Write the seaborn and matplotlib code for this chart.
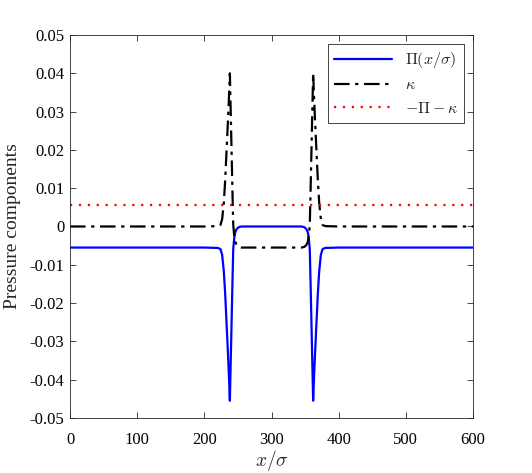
import matplotlib
matplotlib.use("Agg")
import matplotlib.pyplot as plt
import pandas as pd
import seaborn as sns
from matplotlib.ticker import FuncFormatter

# values
x_pos = [0, 200, 220, 224, 226.5, 229, 231, 233, 235, 236.5, 238, 239.5, 241, 242, 243,
         244.5, 246, 248, 251, 255, 300, 345, 349, 352, 354, 355.5, 357, 358, 359,
         360.5, 362, 363.5, 365, 367, 369, 371, 373.5, 376, 380, 400, 600]
pi_vals = [-0.0055, -0.0055, -0.0056, -0.0059, -0.0074, -0.0117, -0.0175, -0.0250, -0.0325,
           -0.0385, -0.0455, -0.0335, -0.0215, -0.0135, -0.0060, -0.0030, -0.0015, -0.0007,
           -0.0002, 0.0, 0.0, 0.0, -0.0002, -0.0007, -0.0015, -0.0030, -0.0060, -0.0135,
           -0.0215, -0.0335, -0.0455, -0.0385, -0.0325, -0.0250, -0.0175, -0.0117, -0.0074,
           -0.0059, -0.0056, -0.0055, -0.0055]
kappa_vals = [0.0, 0.0, 0.0001, 0.0004, 0.0019, 0.0062, 0.0120, 0.0195, 0.0270, 0.0330,
              0.0400, 0.0280, 0.0160, 0.0080, 0.0005, -0.0025, -0.0040, -0.0048, -0.0053,
              -0.0055, -0.0055, -0.0055, -0.0053, -0.0048, -0.0040, -0.0025, 0.0005, 0.0080,
              0.0160, 0.0280, 0.0400, 0.0330, 0.0270, 0.0195, 0.0120, 0.0062, 0.0019, 0.0004,
              0.0001, 0.0, 0.0]
rest_x = [0, 600]
rest_vals = [0.0055, 0.0055]

df = pd.DataFrame({'x': x_pos, 'Pi': pi_vals, 'kappa': kappa_vals})
rest = pd.DataFrame({'x': rest_x, 'r': rest_vals})

sns.set_style('ticks')
plt.rcParams['font.family'] = ['Liberation Serif', 'DejaVu Serif']
plt.rcParams['mathtext.fontset'] = 'cm'

fig = plt.figure(figsize=(5.32, 4.73), dpi=100)
ax = fig.add_axes([0.1316, 0.1163, 0.7575, 0.8097])

sns.lineplot(data=df, x='x', y='Pi', ax=ax, color='#0000ff', lw=1.6, sort=False,
             label=r'$\Pi(x/\sigma)$')
sns.lineplot(data=df, x='x', y='kappa', ax=ax, color='black', lw=1.6, sort=False,
             linestyle=(0, (7, 2.5, 1.5, 2.5)), label=r'$\kappa$')
sns.lineplot(data=rest, x='x', y='r', ax=ax, color='#ff0000', lw=1.6,
             linestyle=(0, (1, 3)), label=r'$-\Pi-\kappa$')

ax.set_xlim(0, 600)
ax.set_ylim(-0.05, 0.05)
ax.set_xticks(range(0, 601, 100))
ax.set_yticks([-0.05, -0.04, -0.03, -0.02, -0.01, 0, 0.01, 0.02, 0.03, 0.04, 0.05])
ax.yaxis.set_major_formatter(FuncFormatter(lambda v, p: '0' if abs(v) < 1e-9 else ('%.2f' % v)))
ax.tick_params(direction='in', top=True, right=True, length=4, width=0.6,
               labelsize=12, colors='#262626', labelcolor='black')
ax.tick_params(axis='x', pad=10)
ax.tick_params(axis='y', pad=4)
for s in ax.spines.values():
    s.set_linewidth(0.6)
    s.set_color('#262626')

ax.set_xlabel(r'$x/\sigma$', fontsize=14, labelpad=0)
ax.set_ylabel('Pressure components', fontsize=14, labelpad=6)

leg = ax.legend(loc='upper right', fontsize=11.5, fancybox=False, framealpha=1,
                edgecolor='#262626', borderaxespad=0.55, handlelength=3.6,
                labelspacing=0.45)
leg.get_frame().set_linewidth(0.6)

fig.savefig('out.png', dpi=100)
